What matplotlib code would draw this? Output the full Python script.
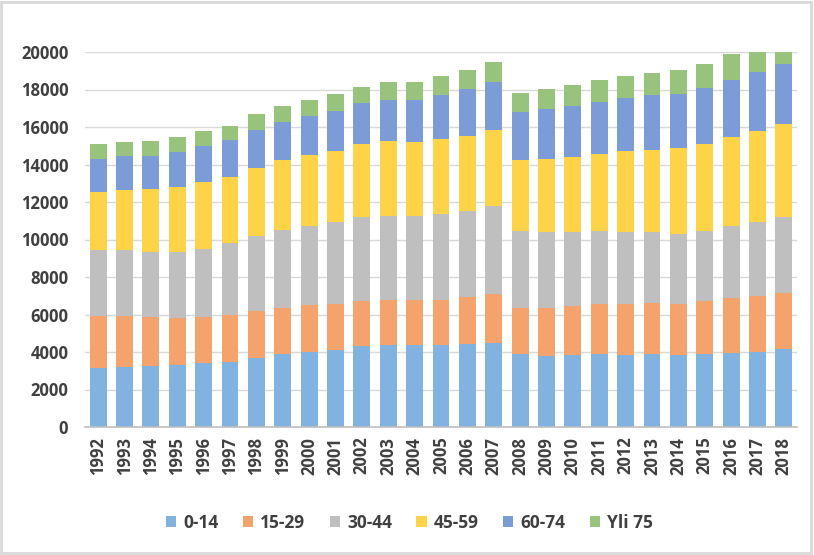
import matplotlib
matplotlib.use("Agg")
import matplotlib.pyplot as plt
from matplotlib.patches import Patch, Rectangle
import numpy as np

years = [str(y) for y in range(1992, 2019)]
series_names = ["0-14", "15-29", "30-44", "45-59", "60-74", "Yli 75"]

s_0_14 = [3150, 3180, 3250, 3310, 3410, 3470, 3680, 3890, 4020, 4120, 4320, 4360, 4390, 4360,
          4430, 4460, 3910, 3800, 3820, 3890, 3820, 3890, 3860, 3890, 3960, 4020, 4160]
s_15_29 = [2790, 2760, 2630, 2520, 2470, 2520, 2490, 2450, 2470, 2420, 2420, 2420, 2380, 2420,
           2500, 2620, 2440, 2550, 2630, 2650, 2720, 2710, 2690, 2810, 2920, 2950, 2970]
s_30_44 = [3520, 3480, 3480, 3520, 3630, 3800, 4000, 4150, 4250, 4370, 4440, 4460, 4460, 4570,
           4570, 4710, 4090, 4040, 3930, 3890, 3840, 3790, 3730, 3730, 3820, 3950, 4050]
s_45_59 = [3060, 3200, 3310, 3450, 3540, 3540, 3650, 3730, 3750, 3810, 3910, 4000, 3950, 4000,
           4000, 4050, 3790, 3890, 4000, 4110, 4320, 4370, 4590, 4640, 4750, 4850, 4960]
s_60_74 = [1760, 1810, 1810, 1870, 1920, 1970, 2030, 2050, 2080, 2120, 2190, 2190, 2240, 2370,
           2510, 2560, 2580, 2690, 2740, 2790, 2850, 2930, 2880, 2990, 3040, 3150, 3200]
s_75 = [800, 750, 800, 780, 800, 780, 830, 830, 850, 900, 840, 960, 960, 1000,
        1010, 1050, 1010, 1050, 1100, 1160, 1160, 1170, 1280, 1280, 1390, 1400, 1450]

y_ticks = [0, 2000, 4000, 6000, 8000, 10000, 12000, 14000, 16000, 18000, 20000]

colors = ["#82B3E0", "#F3A36B", "#BFBFBF", "#FFD347", "#7B9CD7", "#98C37D"]
all_series = [s_0_14, s_15_29, s_30_44, s_45_59, s_60_74, s_75]

plt.rcParams['font.family'] = ['Open Sans', 'DejaVu Sans']
text_color = "#404040"

fig = plt.figure(figsize=(8.14, 5.55), dpi=100)
ax = fig.add_axes([85 / 814, 128 / 555, 712 / 814, 375 / 555])

x = np.arange(len(years))
bottom = np.zeros(len(years))
for name, vals, c in zip(series_names, all_series, colors):
    v = np.array(vals, dtype=float)
    ax.bar(x, v, bottom=bottom, width=0.64, color=c, label=name, zorder=3)
    bottom += v

ax.set_xlim(-0.5, len(years) - 0.5)
ax.set_ylim(0, 20000)
ax.set_yticks(y_ticks)
ax.set_yticklabels([str(t) for t in y_ticks])
ax.set_xticks(x)
ax.set_xticklabels(years, rotation=90)

ax.grid(axis='y', color='#D9D9D9', linewidth=1, zorder=0)
for side in ['top', 'right', 'left']:
    ax.spines[side].set_visible(False)
ax.spines['bottom'].set_color('#BFBFBF')
ax.spines['bottom'].set_linewidth(1.2)
ax.spines['bottom'].set_zorder(4)
ax.tick_params(axis='both', length=0, colors=text_color)
ax.tick_params(axis='y', pad=12, labelsize=12)
ax.tick_params(axis='x', pad=7, labelsize=12)
for lab in ax.get_xticklabels() + ax.get_yticklabels():
    lab.set_fontweight('bold')
    lab.set_color(text_color)

handles = [Patch(facecolor=c, edgecolor='none') for c in colors]
leg = fig.legend(handles, series_names, loc='center', bbox_to_anchor=(0.503, 1 - 523 / 555),
                 ncol=6, frameon=False, handlelength=0.6, handleheight=0.6,
                 handletextpad=0.4, columnspacing=1.4,
                 prop={'weight': 'bold', 'size': 12.5})
for t in leg.get_texts():
    t.set_color(text_color)

fig.patches.append(Rectangle((0.0015, 0.003), 0.995, 0.994, transform=fig.transFigure,
                             fill=False, edgecolor='#D9D9D9', linewidth=2))

fig.savefig("out.png", dpi=100)
